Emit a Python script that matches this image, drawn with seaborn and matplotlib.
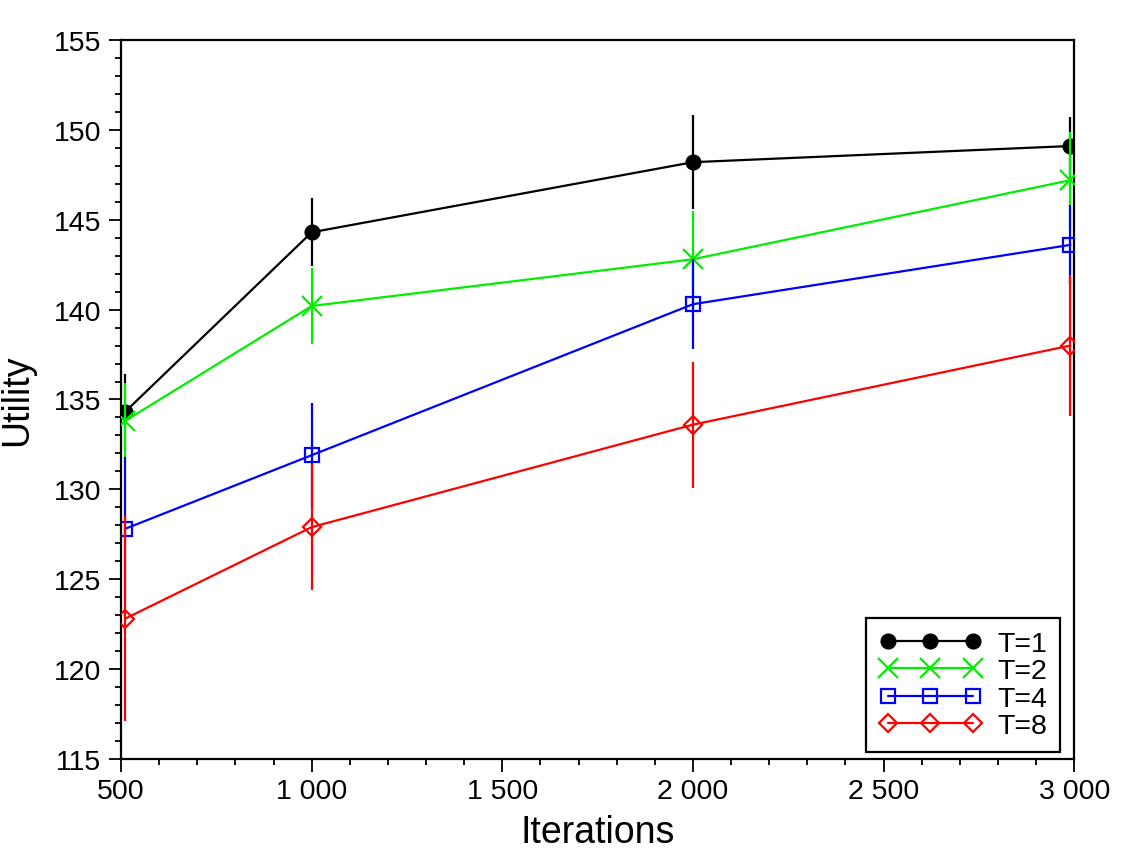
import numpy as np
import pandas as pd
import matplotlib
matplotlib.use("Agg")
import matplotlib.pyplot as plt
import seaborn as sns
from matplotlib.ticker import MultipleLocator, FuncFormatter

# Data
iterations = [510, 1000, 2000, 2990]
labels = ["T=1", "T=2", "T=4", "T=8"]
util_t1 = [134.3, 144.3, 148.2, 149.1]
util_t2 = [133.8, 140.2, 142.8, 147.2]
util_t4 = [127.8, 131.9, 140.3, 143.6]
util_t8 = [122.8, 127.9, 133.6, 138.0]
err_t1 = [2.1, 1.9, 2.6, 1.6]
err_t2 = [2.1, 2.1, 2.7, 2.7]
err_t4 = [4.0, 2.9, 2.5, 2.2]
err_t8 = [5.7, 3.5, 3.5, 3.9]

colors = ["black", "#00ee00", "blue", "red"]
markers = ["o", "x", "s", "D"]
msizes = [10, 14, 10, 9]
fills = ["black", "none", "none", "none"]

utils = [util_t1, util_t2, util_t4, util_t8]
errs = [err_t1, err_t2, err_t4, err_t8]

sns.set_theme(style="ticks")
plt.rcParams["font.family"] = ["Liberation Sans", "DejaVu Sans"]
plt.rcParams["text.color"] = "black"
plt.rcParams["axes.labelcolor"] = "black"

fig = plt.figure(figsize=(11.26, 8.53), dpi=100)
ax = fig.add_axes([0.1075, 0.109, 0.8465, 0.843])

for i in range(4):
    df = pd.DataFrame({"Iterations": iterations, "Utility": utils[i]})
    # error bars first, then line with markers
    ax.vlines(iterations, np.array(utils[i]) - np.array(errs[i]),
              np.array(utils[i]) + np.array(errs[i]),
              color=colors[i], lw=1.6, zorder=2 + i)
    sns.lineplot(data=df, x="Iterations", y="Utility", ax=ax,
                 color=colors[i], marker=markers[i], markersize=msizes[i],
                 markerfacecolor=fills[i], markeredgecolor=colors[i],
                 markeredgewidth=1.6, lw=1.6, label=labels[i], zorder=2 + i)

ax.set_xlim(500, 3000)
ax.set_ylim(115, 155)
ax.xaxis.set_major_locator(MultipleLocator(500))
ax.xaxis.set_minor_locator(MultipleLocator(100))
ax.yaxis.set_major_locator(MultipleLocator(5))
ax.yaxis.set_minor_locator(MultipleLocator(1))
ax.xaxis.set_major_formatter(FuncFormatter(lambda v, p: f"{int(v):,}".replace(",", " ")))

ax.tick_params(which="major", direction="out", length=9, width=1.3,
               labelsize=20.5, colors="black", pad=5)
ax.tick_params(which="minor", direction="out", length=4.5, width=1.3, colors="black")
ax.tick_params(top=False, right=False, which="both")
for sp in ax.spines.values():
    sp.set_linewidth(1.6)
    sp.set_color("black")

ax.set_xlabel("Iterations", fontsize=27, labelpad=7, color="black")
ax.set_ylabel("Utility", fontsize=27, labelpad=14, color="black")

leg = ax.legend(loc="lower right", bbox_to_anchor=(0.985, 0.0097),
                borderaxespad=0, numpoints=3, fontsize=20.5, handlelength=3.6,
                handletextpad=0.55, labelspacing=0.05, fancybox=False,
                framealpha=1, edgecolor="black", borderpad=0.45)
leg.get_frame().set_linewidth(1.6)
for t in leg.get_texts():
    t.set_color("black")

fig.savefig("out.png", dpi=100)
